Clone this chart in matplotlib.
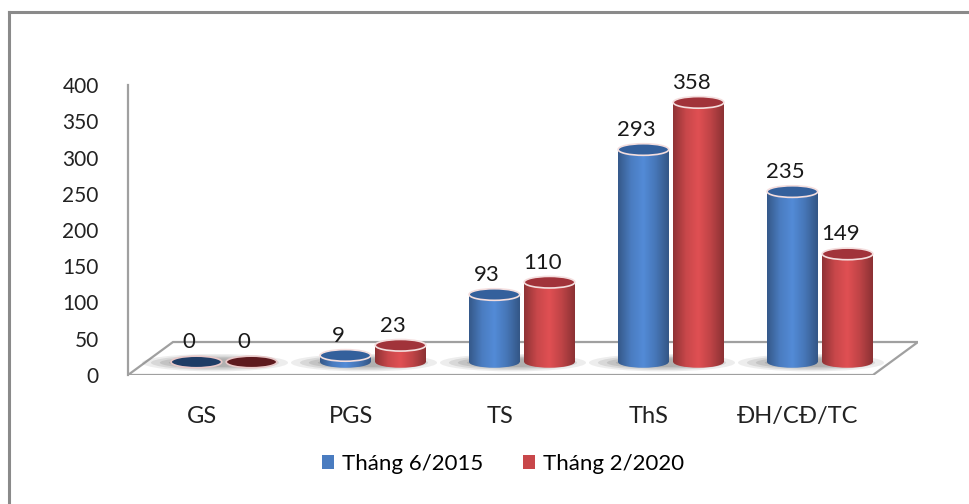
import numpy as np
import matplotlib.pyplot as plt
from matplotlib.patches import Ellipse, Rectangle, Polygon
from matplotlib.colors import LinearSegmentedColormap, to_rgb

plt.rcParams["font.family"] = ["Lato", "DejaVu Sans"]

categories = ["GS", "PGS", "TS", "ThS", "ĐH/CĐ/TC"]
series_names = ["Tháng 6/2015", "Tháng 2/2020"]
values_2015 = [0, 9, 93, 293, 235]
values_2020 = [0, 23, 110, 358, 149]
yticks = [0, 50, 100, 150, 200, 250, 300, 350, 400]

colors = ["#4a7cc0", "#c8474a"]
top_colors = ["#34609c", "#a1333a"]
flat_colors = ["#1f3d66", "#5e1a1e"]

base = 18      # depth of the bars on the floor, in data units
cap_h = 16     # height of the elliptic caps
bar_w = 0.34
offset = 0.185


def shade_cmap(c):
    r = np.array(to_rgb(c))
    stops = [r * 0.72, r * 1.0, np.minimum(r * 1.12, 1), r * 0.95, r * 0.7]
    return LinearSegmentedColormap.from_list("s", [tuple(s) for s in stops])


fig = plt.figure(figsize=(9.69, 5.04), dpi=100)
ax = fig.add_axes([128 / 969, (504 - 375) / 504, 790 / 969, 290 / 504])
ax.set_xlim(-0.644, 4.658)
ax.set_ylim(0, 400)

# frame of the original picture (top and left edges only)
fig.add_artist(plt.Line2D([9 / 969, 1], [1 - 12 / 504] * 2, color="#8a8a8a", lw=2.2))
fig.add_artist(plt.Line2D([9 / 969] * 2, [0, 1 - 12 / 504], color="#8a8a8a", lw=2.2))

# floor
floor = Polygon([(-0.644, 0), (4.356, 0), (4.658, 45.5), (-0.342, 45.5)],
                closed=True, facecolor="white", edgecolor="#a0a0a0", lw=1.6, zorder=1)
ax.add_patch(floor)

grad = np.linspace(0, 1, 64).reshape(1, -1)
x = np.arange(len(categories))

# soft shadows on the floor
for i in x:
    for k, a in enumerate([0.12, 0.16, 0.2, 0.22]):
        ax.add_patch(Ellipse((i - 0.06, base - 1), 0.98 - 0.12 * k, 24 - 4 * k,
                             facecolor="#707070", edgecolor="none", alpha=a, zorder=2))

for s, vals in enumerate([values_2015, values_2020]):
    cmap = shade_cmap(colors[s])
    for i, v in zip(x, vals):
        cx = i + (offset if s else -offset)
        z = 3 + i * 2 + s
        top = base + v
        if v > 0:
            rect = Rectangle((cx - bar_w / 2, base), bar_w, v, facecolor="none", edgecolor="none")
            ax.add_patch(rect)
            im = ax.imshow(grad, cmap=cmap, extent=(cx - bar_w / 2, cx + bar_w / 2, base - cap_h, top),
                           aspect="auto", zorder=z, interpolation="bilinear")
            im.set_clip_path(rect)
            bot = Ellipse((cx, base), bar_w, cap_h, facecolor="none", edgecolor="none")
            ax.add_patch(bot)
            im2 = ax.imshow(grad, cmap=cmap, extent=(cx - bar_w / 2, cx + bar_w / 2, base - cap_h, top),
                            aspect="auto", zorder=z, interpolation="bilinear")
            im2.set_clip_path(bot)
            ax.add_patch(Ellipse((cx, top), bar_w, cap_h, facecolor=top_colors[s],
                                 edgecolor="#f4dede", lw=1.2, zorder=z + 0.5))
        else:
            ax.add_patch(Ellipse((cx, top), bar_w, cap_h, facecolor=flat_colors[s],
                                 edgecolor="#e8c8c8", lw=1.2, zorder=z + 0.5))
        ax.text(cx - 0.05, top + 27, str(v), ha="center", va="center",
                fontsize=16, color="#1a1a1a", zorder=20)

ax.set_yticks(yticks)
ax.set_yticklabels([str(t) for t in yticks], fontsize=15, color="#222222")
ax.tick_params(axis="y", length=0, pad=21)
ax.set_xticks(x - 0.15)
ax.set_xticklabels(categories, fontsize=17, color="#222222")
ax.tick_params(axis="x", length=0, pad=22)
for side in ["top", "right", "bottom"]:
    ax.spines[side].set_visible(False)
ax.spines["left"].set_color("#a0a0a0")
ax.spines["left"].set_linewidth(1.6)
ax.set_facecolor("none")

handles = [Rectangle((0, 0), 1, 1, facecolor=c) for c in colors]
fig.legend(handles, series_names, loc="center", bbox_to_anchor=(503 / 969, 1 - 464 / 504),
           ncol=2, frameon=False, fontsize=16, handlelength=0.55, handleheight=0.55,
           handletextpad=0.35, columnspacing=1.8)

fig.savefig("out.png", dpi=100)
